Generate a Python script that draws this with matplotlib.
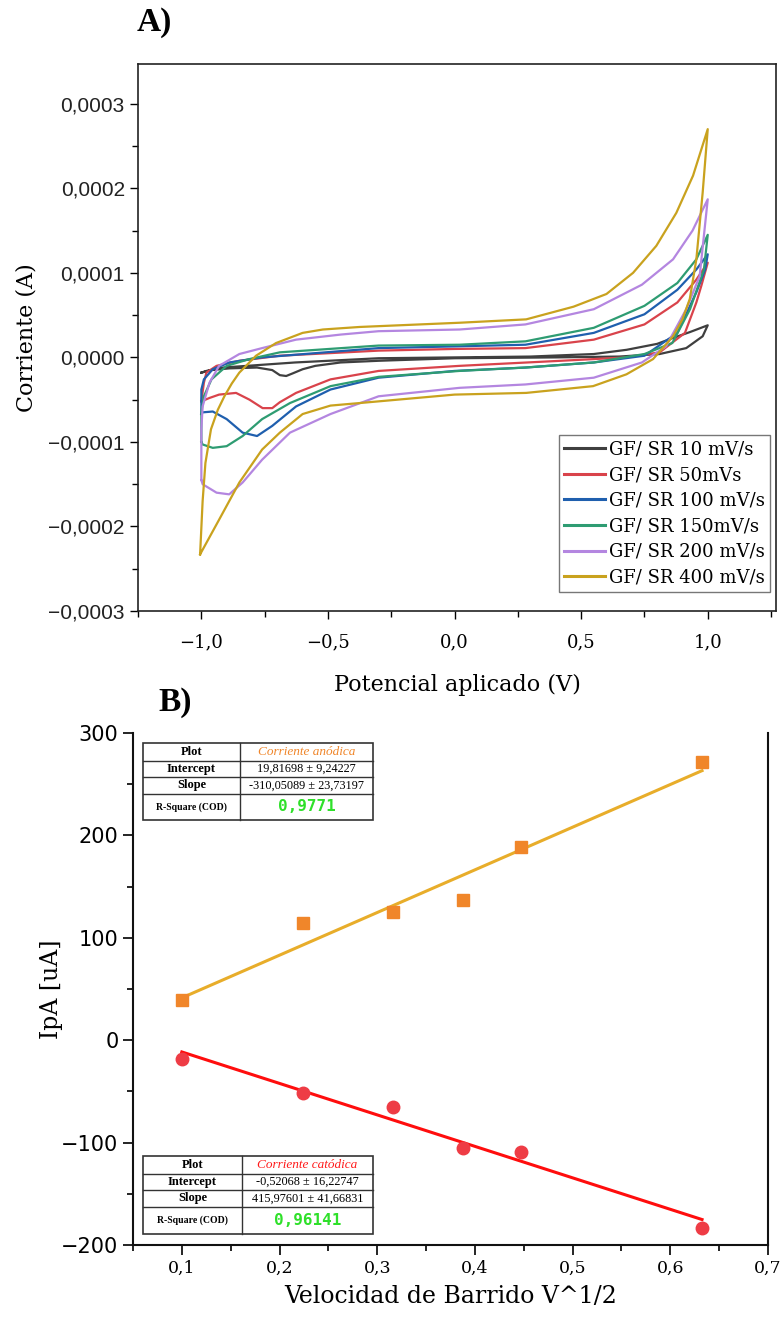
import numpy as np
import matplotlib
matplotlib.use("Agg")
import matplotlib.pyplot as plt
from matplotlib.ticker import MultipleLocator, FuncFormatter
from matplotlib.patches import Rectangle

# ---------------- Panel A data (potential V, current in 1e-4 A) ----------------
CUR_SCALE = 1e-4
labels_A = ["GF/ SR 10 mV/s", "GF/ SR 50mVs", "GF/ SR 100 mV/s",
            "GF/ SR 150mV/s", "GF/ SR 200 mV/s", "GF/ SR 400 mV/s"]
colors_A = ["#3f3f3f", "#d9434b", "#1f5fae", "#2e9c72", "#b486e0", "#c9a21e"]

E_10 = [-1.0, -0.98, -0.915, -0.82, -0.63, -0.30, 0.0, 0.30, 0.55, 0.68, 0.80, 0.863, 0.93, 1.0,
        0.98, 0.915, 0.81, 0.65, 0.40, 0.0, -0.30, -0.45, -0.55, -0.60, -0.64, -0.665, -0.69, -0.72,
        -0.78, -0.89, -0.96, -1.0]
I_10 = [-0.18, -0.16, -0.12, -0.10, -0.06, -0.01, 0.0, 0.01, 0.04, 0.09, 0.16, 0.23, 0.30, 0.38,
        0.25, 0.11, 0.04, 0.01, 0.0, -0.01, -0.04, -0.06, -0.10, -0.14, -0.19, -0.22, -0.21, -0.15,
        -0.12, -0.13, -0.15, -0.18]

E_50 = [-1.0, -0.99, -0.98, -0.94, -0.85, -0.69, -0.30, 0.0, 0.28, 0.55, 0.75, 0.88, 0.955, 1.0,
        0.975, 0.955, 0.91, 0.81, 0.68, 0.42, 0.02, -0.30, -0.49, -0.626, -0.69, -0.72, -0.758,
        -0.81, -0.863, -0.93, -0.968, -1.0]
I_50 = [-0.52, -0.30, -0.18, -0.10, -0.04, 0.02, 0.08, 0.10, 0.11, 0.21, 0.39, 0.65, 0.92, 1.12,
        0.85, 0.65, 0.29, 0.06, 0.0, -0.04, -0.10, -0.16, -0.26, -0.42, -0.53, -0.60, -0.60,
        -0.50, -0.42, -0.44, -0.48, -0.52]

E_100 = [-1.0, -1.0, -0.99, -0.955, -0.89, -0.76, -0.30, 0.0, 0.28, 0.55, 0.75, 0.88, 0.955, 1.0,
         0.99, 0.955, 0.88, 0.75, 0.55, 0.28, 0.0, -0.30, -0.49, -0.626, -0.72, -0.78, -0.837,
         -0.90, -0.955, -0.995, -1.0]
I_100 = [-0.67, -0.38, -0.26, -0.14, -0.06, 0.0, 0.11, 0.13, 0.15, 0.29, 0.51, 0.80, 1.04, 1.22,
         1.04, 0.77, 0.29, 0.02, -0.06, -0.12, -0.16, -0.24, -0.38, -0.58, -0.81, -0.93, -0.89,
         -0.73, -0.64, -0.65, -0.67]

E_150 = [-1.0, -1.0, -0.99, -0.96, -0.90, -0.81, -0.69, -0.30, 0.02, 0.28, 0.55, 0.75, 0.88, 0.955,
         1.0, 0.985, 0.93, 0.86, 0.75, 0.55, 0.28, 0.02, -0.30, -0.49, -0.65, -0.76, -0.837, -0.90,
         -0.955, -0.995, -1.0]
I_150 = [-1.0, -0.65, -0.46, -0.26, -0.10, -0.02, 0.06, 0.14, 0.15, 0.19, 0.35, 0.61, 0.88, 1.16,
         1.45, 1.04, 0.57, 0.17, 0.04, -0.06, -0.12, -0.16, -0.23, -0.34, -0.54, -0.73, -0.93, -1.05,
         -1.07, -1.03, -1.0]

E_200 = [-1.0, -1.0, -1.0, -0.995, -0.968, -0.93, -0.85, -0.76, -0.626, -0.45, -0.30, 0.02, 0.28,
         0.55, 0.74, 0.863, 0.94, 1.0, 0.968, 0.915, 0.835, 0.74, 0.55, 0.28, 0.02, -0.30, -0.49,
         -0.65, -0.76, -0.837, -0.89, -0.94, -0.995, -1.0]
I_200 = [-1.45, -1.25, -0.85, -0.58, -0.30, -0.10, 0.04, 0.11, 0.21, 0.27, 0.31, 0.33, 0.39,
         0.57, 0.86, 1.16, 1.50, 1.87, 0.96, 0.57, 0.13, -0.06, -0.24, -0.32, -0.36, -0.46, -0.67,
         -0.89, -1.21, -1.48, -1.62, -1.60, -1.50, -1.45]

E_400 = [-1.005, -0.995, -0.984, -0.962, -0.935, -0.909, -0.88, -0.85, -0.784, -0.705, -0.60, -0.52,
         -0.375, 0.02, 0.283, 0.47, 0.60, 0.705, 0.797, 0.876, 0.942, 1.0, 0.98, 0.955, 0.929,
         0.90, 0.863, 0.784, 0.679, 0.547, 0.283, 0.0, -0.375, -0.49, -0.60, -0.69, -0.76, -0.85,
         -0.93, -1.005]
I_400 = [-2.33, -1.70, -1.25, -0.85, -0.62, -0.46, -0.31, -0.18, 0.02, 0.17, 0.29, 0.33,
         0.36, 0.41, 0.45, 0.60, 0.75, 1.00, 1.32, 1.71, 2.15, 2.70, 1.95, 1.16, 0.69,
         0.45, 0.25, -0.02, -0.20, -0.34, -0.42, -0.44, -0.54, -0.57, -0.67, -0.89, -1.09, -1.48,
         -1.92, -2.33]

curves_E = [E_10, E_50, E_100, E_150, E_200, E_400]
curves_I = [I_10, I_50, I_100, I_150, I_200, I_400]

# ---------------- Panel B data ----------------
scan_sqrt = [0.1, 0.2236, 0.3162, 0.3873, 0.4472, 0.6325]
ipa_anodic = [39, 114, 125, 137, 189, 272]
ipa_cathodic = [-18, -52, -65, -105, -109, -183]

table_top_rows = [["Plot", "Corriente anódica"],
                  ["Intercept", "19,81698 ± 9,24227"],
                  ["Slope", "-310,05089 ± 23,73197"],
                  ["R-Square (COD)", "0,9771"]]
table_bot_rows = [["Plot", "Corriente catódica"],
                  ["Intercept", "-0,52068 ± 16,22747"],
                  ["Slope", "415,97601 ± 41,66831"],
                  ["R-Square (COD)", "0,96141"]]

SERIF = ["DejaVu Serif"]
MINUS = "\u2212"

fig = plt.figure(figsize=(7.8, 13.26), dpi=100)

# ======================= Panel A =======================
axA = fig.add_axes([0.177, 0.5392, 0.818, 0.4125])
for E, I, c, lab in zip(curves_E, curves_I, colors_A, labels_A):
    axA.plot(E, np.array(I) * CUR_SCALE, color=c, lw=1.6, label=lab,
             solid_joinstyle="round")
axA.set_xlim(-1.25, 1.27)
axA.set_ylim(-0.0003, 0.000347)
axA.xaxis.set_major_locator(MultipleLocator(0.5))
axA.xaxis.set_minor_locator(MultipleLocator(0.25))
axA.yaxis.set_major_locator(MultipleLocator(0.0001))
axA.yaxis.set_minor_locator(MultipleLocator(0.00005))
axA.xaxis.set_major_formatter(FuncFormatter(
    lambda v, p: f"{v:.1f}".replace(".", ",").replace("-", MINUS)))
axA.yaxis.set_major_formatter(FuncFormatter(
    lambda v, p: ("0,0000" if abs(v) < 1e-12 else f"{v:.4f}".replace(".", ",").replace("-", MINUS))))
axA.tick_params(which="both", direction="out", top=False, right=False, width=1.0)
axA.tick_params(which="major", length=6)
axA.tick_params(which="minor", length=4)
axA.tick_params(axis="x", which="major", pad=10)
for lab in axA.get_yticklabels():
    lab.set_fontfamily("Liberation Sans")
    lab.set_fontsize(15)
    lab.set_color("#222222")
for lab in axA.get_xticklabels():
    lab.set_fontfamily(SERIF)
    lab.set_fontsize(13)
for s in axA.spines.values():
    s.set_linewidth(1.2)
    s.set_color("#222222")
axA.set_xlabel("Potencial aplicado (V)", fontfamily=SERIF, fontsize=16, labelpad=16)
axA.set_ylabel("Corriente (A)", fontfamily=SERIF, fontsize=16, labelpad=8)
leg = axA.legend(loc="lower right", bbox_to_anchor=(0.991, 0.035),
                 prop={"family": SERIF, "size": 13},
                 frameon=True, fancybox=False, edgecolor="#555555",
                 handlelength=2.3, handletextpad=0.2, labelspacing=0.42,
                 borderpad=0.3, borderaxespad=0.0)
leg.get_frame().set_linewidth(1.0)
for h in leg.get_lines():
    h.set_linewidth(2.2)

fig.text(137 / 780, 1 - 22 / 1326, "A)", fontfamily="Liberation Serif", fontweight="bold",
         fontsize=24, ha="left", va="center")

# ======================= Panel B =======================
axB = fig.add_axes([0.1705, 0.0611, 0.8141, 0.3861])
x = np.array(scan_sqrt)
ka, ba = np.polyfit(x, ipa_anodic, 1)
kc, bc = np.polyfit(x, ipa_cathodic, 1)
axB.plot(x[[0, -1]], ka * x[[0, -1]] + ba, color="#e8ad2a", lw=2.2, zorder=2)
axB.plot(x[[0, -1]], kc * x[[0, -1]] + bc, color="#ff0d0d", lw=2.2, zorder=2)
axB.plot(x, ipa_anodic, ls="none", marker="s", ms=8.5, color="#f0862a", zorder=3)
axB.plot(x, ipa_cathodic, ls="none", marker="o", ms=9, color="#ee3c45", zorder=3)
axB.set_xlim(0.05, 0.7)
axB.set_ylim(-200, 300)
axB.xaxis.set_major_locator(MultipleLocator(0.1))
axB.xaxis.set_minor_locator(MultipleLocator(0.05))
axB.yaxis.set_major_locator(MultipleLocator(100))
axB.yaxis.set_minor_locator(MultipleLocator(50))
axB.xaxis.set_major_formatter(FuncFormatter(lambda v, p: f"{v:.1f}".replace(".", ",")))
axB.yaxis.set_major_formatter(FuncFormatter(lambda v, p: f"{v:.0f}".replace("-", MINUS)))
axB.tick_params(which="both", direction="out", width=1.2)
axB.tick_params(which="major", length=7)
axB.tick_params(which="minor", length=4)
for lab in axB.get_yticklabels():
    lab.set_fontfamily("DejaVu Sans")
    lab.set_fontsize(15)
for lab in axB.get_xticklabels():
    lab.set_fontfamily(SERIF)
    lab.set_fontsize(12.5)
axB.spines["top"].set_visible(False)
for s in ["left", "bottom", "right"]:
    axB.spines[s].set_linewidth(1.5)
    axB.spines[s].set_color("#111111")
axB.set_xlabel("Velocidad de Barrido V^1/2", fontfamily=SERIF, fontsize=17, labelpad=6)
axB.set_ylabel("IpA [uA]", fontfamily=SERIF, fontsize=17, labelpad=-1)

fig.text(158 / 780, 1 - 703 / 1326, "B)", fontfamily="Liberation Serif", fontweight="bold",
         fontsize=24, ha="left", va="center")


def draw_table(ax, rows, left, split, right, bounds, title_color):
    tr = ax.transAxes
    ax.add_patch(Rectangle((left, bounds[-1]), right - left, bounds[0] - bounds[-1],
                           transform=tr, fill=True, facecolor="white",
                           edgecolor="#333333", lw=1.2, zorder=5, clip_on=False))
    for b in bounds[1:-1]:
        ax.plot([left, right], [b, b], transform=tr, color="#333333", lw=1.0, zorder=6,
                clip_on=False)
    ax.plot([split, split], [bounds[-1], bounds[0]], transform=tr, color="#333333",
            lw=1.0, zorder=6, clip_on=False)
    for i, (c1, c2) in enumerate(rows):
        yc = 0.5 * (bounds[i] + bounds[i + 1])
        xc1 = 0.5 * (left + split)
        xc2 = 0.5 * (split + right)
        if i == 3:
            ax.text(xc1, yc, c1, transform=tr, ha="center", va="center",
                    fontfamily="Liberation Serif", fontweight="bold", fontsize=7, zorder=7)
            ax.text(xc2, yc, c2, transform=tr, ha="center", va="center",
                    fontfamily="DejaVu Sans Mono", fontweight="bold", fontsize=11.5,
                    color="#2fe02a", zorder=7)
        else:
            ax.text(xc1, yc, c1, transform=tr, ha="center", va="center",
                    fontfamily="Liberation Serif", fontweight="bold", fontsize=9, zorder=7)
            if i == 0:
                ax.text(xc2, yc, c2, transform=tr, ha="center", va="center",
                        fontfamily="Liberation Serif", fontstyle="italic", fontsize=9.5,
                        color=title_color, zorder=7)
            else:
                ax.text(xc2, yc, c2, transform=tr, ha="center", va="center",
                        fontfamily="Liberation Serif", fontsize=8.8, zorder=7)


draw_table(axB, table_top_rows, 0.0157, 0.1685, 0.378,
           [0.9805, 0.9453, 0.914, 0.881, 0.830], "#f0862a")
draw_table(axB, table_bot_rows, 0.0157, 0.1717, 0.378,
           [0.1738, 0.1387, 0.1074, 0.0742, 0.0215], "#ff1a1a")

fig.savefig("out.png", dpi=100)
